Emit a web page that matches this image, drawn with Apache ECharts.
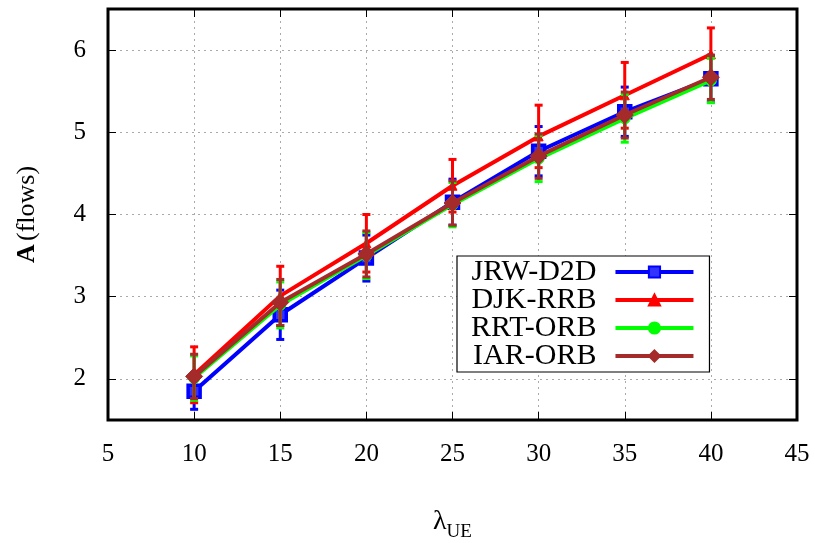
<!DOCTYPE html>
<html><head><meta charset="utf-8">
<script src="https://cdn.jsdelivr.net/npm/echarts@6/dist/echarts.min.js"></script>
<style>html,body{margin:0;padding:0;background:#fff}#c{width:815px;height:543px}</style>
</head><body><div id="c"></div>
<script>
var xValues = [10, 15, 20, 25, 30, 35, 40];
var seriesNames = ['JRW-D2D', 'DJK-RRB', 'RRT-ORB', 'IAR-ORB'];
var jrwD2D = [1.85, 2.78, 3.47, 4.15, 4.77, 5.25, 5.65];
var jrwD2DErr = [0.22, 0.30, 0.28, 0.28, 0.30, 0.30, 0.28];
var djkRRB = [2.05, 3.01, 3.65, 4.35, 4.95, 5.45, 5.95];
var djkRRBErr = [0.34, 0.36, 0.35, 0.32, 0.38, 0.40, 0.32];
var rrtORB = [2.01, 2.90, 3.50, 4.12, 4.68, 5.17, 5.63];
var rrtORBErr = [0.27, 0.28, 0.28, 0.27, 0.28, 0.29, 0.27];
var iarORB = [2.03, 2.93, 3.52, 4.14, 4.71, 5.21, 5.67];
var iarORBErr = [0.27, 0.28, 0.28, 0.27, 0.27, 0.28, 0.27];
var xTicks = [5, 10, 15, 20, 25, 30, 35, 40, 45];
var yTicks = [2, 3, 4, 5, 6];

var FONT = 'Liberation Serif';
var colors = ['#0000ff', '#ff0000', '#00ff00', '#a52a2a'];
var values = [jrwD2D, djkRRB, rrtORB, iarORB];
var errs = [jrwD2DErr, djkRRBErr, rrtORBErr, iarORBErr];
var symbols = ['rect', 'triangle', 'circle', 'diamond'];
var symSizes = [12, 9, 11, 17];

function pairs(v) { return xValues.map(function (x, i) { return [x, v[i]]; }); }
function errData(v, e) { return xValues.map(function (x, i) { return [x, v[i] - e[i], v[i] + e[i]]; }); }

var series = [];
values.forEach(function (v, k) {
  var col = colors[k];
  series.push({
    type: 'custom', name: seriesNames[k] + '_err', z: 2 + k * 2, silent: true,
    data: errData(v, errs[k]),
    encode: { x: 0, y: [1, 2] },
    renderItem: function (params, api) {
      var lo = api.coord([api.value(0), api.value(1)]);
      var hi = api.coord([api.value(0), api.value(2)]);
      var w = 4;
      var st = { stroke: col, lineWidth: 3 };
      return { type: 'group', children: [
        { type: 'line', shape: { x1: lo[0], y1: lo[1], x2: hi[0], y2: hi[1] }, style: st },
        { type: 'line', shape: { x1: lo[0] - w, y1: lo[1], x2: lo[0] + w, y2: lo[1] }, style: st },
        { type: 'line', shape: { x1: hi[0] - w, y1: hi[1], x2: hi[0] + w, y2: hi[1] }, style: st }
      ] };
    }
  });
  series.push({
    type: 'line', name: seriesNames[k], z: 3 + k * 2,
    data: pairs(v),
    symbol: symbols[k], symbolSize: symSizes[k],
    showAllSymbol: true,
    lineStyle: { color: col, width: 4 },
    itemStyle: k === 0 ? { color: '#3333ff', borderColor: col, borderWidth: 3.5 } : { color: col, borderColor: col, borderWidth: 1 },
    animation: false
  });
});

var chart = echarts.init(document.getElementById('c'), null, { renderer: 'canvas' });
chart.setOption({
  animation: false,
  backgroundColor: '#fff',
  grid: { left: 108, right: 18, top: 9, bottom: 123, show: true, borderColor: '#000', borderWidth: 3, backgroundColor: 'transparent', z: 10, containLabel: false, outerBoundsMode: 'none' },
  legend: {
    data: seriesNames,
    orient: 'vertical', align: 'right',
    left: 457, top: 256,
    itemWidth: 78, itemHeight: 14, itemGap: -2,
    padding: [1, 14, 1, 14],
    borderColor: '#000', borderWidth: 1.2, backgroundColor: '#fff',
    lineStyle: { width: 4 },
    textStyle: { fontFamily: FONT, fontSize: 30, lineHeight: 20, color: '#000', padding: [0, 14, 0, 0] },
    z: 20
  },
  xAxis: [{
    type: 'value', min: 5, max: 45, interval: 5,
    axisLine: { show: false },
    axisTick: { show: true, inside: true, length: 8, lineStyle: { color: '#000', width: 1 } },
    axisLabel: { fontFamily: FONT, fontSize: 25, color: '#000', margin: 22 },
    splitLine: { show: true, lineStyle: { color: '#aaa', type: [2, 4], width: 1 } },
    name: '{a|λ}{b|UE}', nameLocation: 'middle', nameGap: 86,
    nameTextStyle: { rich: {
      a: { fontFamily: FONT, fontSize: 28, color: '#000', verticalAlign: 'bottom', lineHeight: 30 },
      b: { fontFamily: FONT, fontSize: 19, color: '#000', verticalAlign: 'bottom', lineHeight: 22, padding: [0, 0, -6, 0] }
    } }
  }, {
    type: 'value', position: 'top', min: 5, max: 45, interval: 5,
    axisLine: { show: false },
    axisTick: { show: true, inside: true, length: 8, lineStyle: { color: '#000' } },
    axisLabel: { show: false }, splitLine: { show: false }
  }],
  yAxis: [{
    type: 'value', min: 1.5, max: 6.5,
    axisLine: { show: false },
    axisTick: { show: true, inside: true, length: 8, customValues: yTicks, lineStyle: { color: '#000' } },
    axisLabel: { fontFamily: FONT, fontSize: 25, color: '#000', margin: 22, customValues: yTicks },
    splitLine: { show: true, lineStyle: { color: '#aaa', type: [2, 4], width: 1 } },
    name: '{a|A} {b|(flows)}', nameLocation: 'middle', nameGap: 68, nameRotate: 90,
    nameTextStyle: { rich: {
      a: { fontFamily: FONT, fontSize: 26, fontWeight: 'bold', color: '#000' },
      b: { fontFamily: FONT, fontSize: 26, color: '#000' }
    } }
  }, {
    type: 'value', position: 'right', min: 1.5, max: 6.5,
    axisLine: { show: false },
    axisTick: { show: true, inside: true, length: 8, customValues: yTicks, lineStyle: { color: '#000' } },
    axisLabel: { show: false, customValues: yTicks }, splitLine: { show: false }
  }],
  series: series
});
</script></body></html>
